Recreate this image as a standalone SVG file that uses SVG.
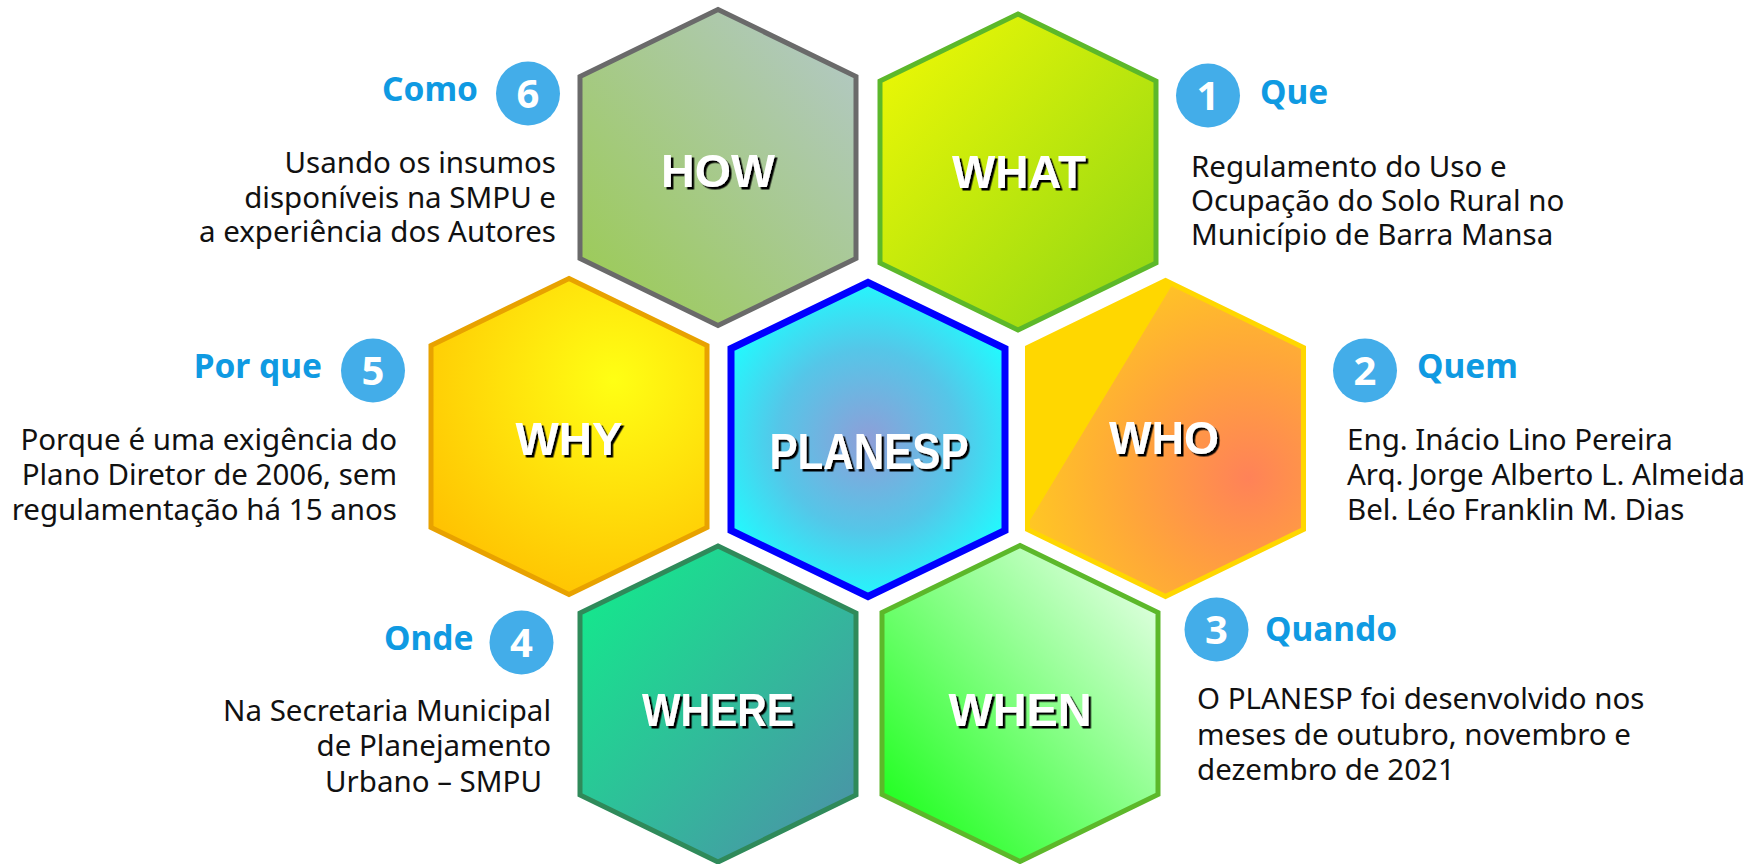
<svg xmlns="http://www.w3.org/2000/svg" width="1759" height="864" viewBox="0 0 1759 864">
<defs>
<style>
.hex{stroke-width:5;stroke-linejoin:miter}
.hl{font-family:"Liberation Sans",Arial,sans-serif;font-weight:bold;font-size:46px;fill:#ffffff;text-anchor:middle;filter:url(#sh)}
.lab{font-family:"Noto Sans","Open Sans",sans-serif;font-weight:bold;font-size:33.5px;fill:#0f9ae2}
.num{font-family:"Noto Sans","Open Sans",sans-serif;font-weight:bold;font-size:40px;fill:#ffffff;text-anchor:middle}
.circ{fill:#43ade9}
.body{font-family:"Noto Sans","Open Sans",sans-serif;font-size:29.5px;fill:#111111}
.end{text-anchor:end}
</style>
<filter id="sh" x="-20%" y="-30%" width="140%" height="160%">
<feDropShadow dx="2.5" dy="2.5" stdDeviation="0.3" flood-color="#000000" flood-opacity="1"/>
</filter>
<linearGradient id="gHow" x1="0" y1="1" x2="1" y2="0"><stop offset="0" stop-color="#9acb4e"/><stop offset="1" stop-color="#b4c8cc"/></linearGradient>
<linearGradient id="gWhat" x1="0" y1="0" x2="1" y2="1"><stop offset="0" stop-color="#f2fa04"/><stop offset="1" stop-color="#8cd515"/></linearGradient>
<linearGradient id="gWhere" x1="0" y1="0" x2="1" y2="1"><stop offset="0" stop-color="#0ff08a"/><stop offset="1" stop-color="#4f8ca9"/></linearGradient>
<linearGradient id="gWhen" x1="0" y1="1" x2="1" y2="0"><stop offset="0" stop-color="#0cff0c"/><stop offset="1" stop-color="#f2fff2"/></linearGradient>
<radialGradient id="gWhy" gradientUnits="userSpaceOnUse" cx="614" cy="380" r="250"><stop offset="0" stop-color="#ffff14"/><stop offset="1" stop-color="#ffbd00"/></radialGradient>
<radialGradient id="gPlan" gradientUnits="userSpaceOnUse" cx="868" cy="440" r="165"><stop offset="0" stop-color="#8e9ed8"/><stop offset="0.55" stop-color="#55c6e8"/><stop offset="1" stop-color="#1ffcff"/></radialGradient>
<radialGradient id="gWho" gradientUnits="userSpaceOnUse" cx="1248" cy="478" r="240"><stop offset="0" stop-color="#ff8258"/><stop offset="0.5" stop-color="#ffa63a"/><stop offset="1" stop-color="#ffcc20"/></radialGradient>
<clipPath id="cWho"><polygon points="1165.5,280.5 1303.5,347.5 1303.5,529.5 1165.5,596.5 1027.5,529.5 1027.5,347.5"/></clipPath>
</defs>
<rect width="1759" height="864" fill="#ffffff"/>

<g id="connectors"></g>

<g id="how">
<polygon class="hex" points="718,9.5 856,76.5 856,258.5 718,325.5 580,258.5 580,76.5" fill="url(#gHow)" stroke="#6a6a6a"/>
<text class="hl" x="718" y="187" textLength="114" lengthAdjust="spacingAndGlyphs">HOW</text>
</g>

<g id="what">
<polygon class="hex" points="1018,14 1156,81 1156,263 1018,330 880,263 880,81" fill="url(#gWhat)" stroke="#5cb82a"/>
<text class="hl" x="1019" y="188" textLength="134" lengthAdjust="spacingAndGlyphs">WHAT</text>
</g>

<g id="why">
<polygon class="hex" points="569,278.5 707,345.5 707,527.5 569,594.5 431,527.5 431,345.5" fill="url(#gWhy)" stroke="#e8a200"/>
<text class="hl" x="569" y="455" textLength="107" lengthAdjust="spacingAndGlyphs">WHY</text>
</g>

<g id="planesp">
<polygon points="868,282.5 1005,348.5 1005,530.5 868,596.5 731,530.5 731,348.5" fill="url(#gPlan)" stroke="#0000ff" stroke-width="7" stroke-linejoin="miter"/>
<text class="hl" x="869" y="469" style="font-size:50px" textLength="199" lengthAdjust="spacingAndGlyphs">PLANESP</text>
</g>

<g id="who">
<polygon points="1165.5,280.5 1303.5,347.5 1303.5,529.5 1165.5,596.5 1027.5,529.5 1027.5,347.5" fill="#ffd700"/>
<polygon clip-path="url(#cWho)" points="1186,262 1320,262 1320,612 1012,612 1012,550" fill="url(#gWho)"/>
<polygon class="hex" points="1165.5,280.5 1303.5,347.5 1303.5,529.5 1165.5,596.5 1027.5,529.5 1027.5,347.5" fill="none" stroke="#ffd700"/>
<text class="hl" x="1164" y="454" textLength="110" lengthAdjust="spacingAndGlyphs">WHO</text>
</g>

<g id="where">
<polygon class="hex" points="718,546 856,613 856,795 718,862 580,795 580,613" fill="url(#gWhere)" stroke="#2f8a5a"/>
<text class="hl" x="718" y="726" textLength="152" lengthAdjust="spacingAndGlyphs">WHERE</text>
</g>

<g id="when">
<polygon class="hex" points="1020,545.5 1158,612.5 1158,794.5 1020,861.5 882,794.5 882,612.5" fill="url(#gWhen)" stroke="#5cb82a"/>
<text class="hl" x="1020" y="726" textLength="143" lengthAdjust="spacingAndGlyphs">WHEN</text>
</g>

<g id="item1">
<circle class="circ" cx="1208" cy="95.5" r="32"/>
<text class="num" x="1208" y="110">1</text>
<text class="lab" x="1260" y="104">Que</text>
<text class="body" x="1191" y="177">Regulamento do Uso e</text>
<text class="body" x="1191" y="211">Ocupação do Solo Rural no</text>
<text class="body" x="1191" y="245">Município de Barra Mansa</text>
</g>

<g id="item2">
<circle class="circ" cx="1365" cy="370.5" r="32"/>
<text class="num" x="1365" y="385">2</text>
<text class="lab" x="1417" y="378">Quem</text>
<text class="body" x="1347" y="450">Eng. Inácio Lino Pereira</text>
<text class="body" x="1347" y="485">Arq. Jorge Alberto L. Almeida</text>
<text class="body" x="1347" y="519.5">Bel. Léo Franklin M. Dias</text>
</g>

<g id="item3">
<circle class="circ" cx="1216.5" cy="629.5" r="32"/>
<text class="num" x="1216.5" y="644">3</text>
<text class="lab" x="1265" y="640.5">Quando</text>
<text class="body" x="1197" y="709">O PLANESP foi desenvolvido nos</text>
<text class="body" x="1197" y="744.5">meses de outubro, novembro e</text>
<text class="body" x="1197" y="779.5">dezembro de 2021</text>
</g>

<g id="item4">
<circle class="circ" cx="521.5" cy="642.5" r="32"/>
<text class="num" x="521.5" y="657">4</text>
<text class="lab end" x="473.5" y="650">Onde</text>
<text class="body end" x="551" y="720.5">Na Secretaria Municipal</text>
<text class="body end" x="551" y="756">de Planejamento</text>
<text class="body end" x="542" y="792">Urbano – SMPU</text>
</g>

<g id="item5">
<circle class="circ" cx="373" cy="370.5" r="32"/>
<text class="num" x="373" y="385">5</text>
<text class="lab end" x="322" y="378">Por que</text>
<text class="body end" x="397" y="450">Porque é uma exigência do</text>
<text class="body end" x="397" y="485">Plano Diretor de 2006, sem</text>
<text class="body end" x="397" y="519.5">regulamentação há 15 anos</text>
</g>

<g id="item6">
<circle class="circ" cx="528" cy="93.5" r="32"/>
<text class="num" x="528" y="108">6</text>
<text class="lab end" x="478" y="100.5">Como</text>
<text class="body end" x="556" y="173">Usando os insumos</text>
<text class="body end" x="556" y="207.5">disponíveis na SMPU e</text>
<text class="body end" x="556" y="242">a experiência dos Autores</text>
</g>
</svg>
